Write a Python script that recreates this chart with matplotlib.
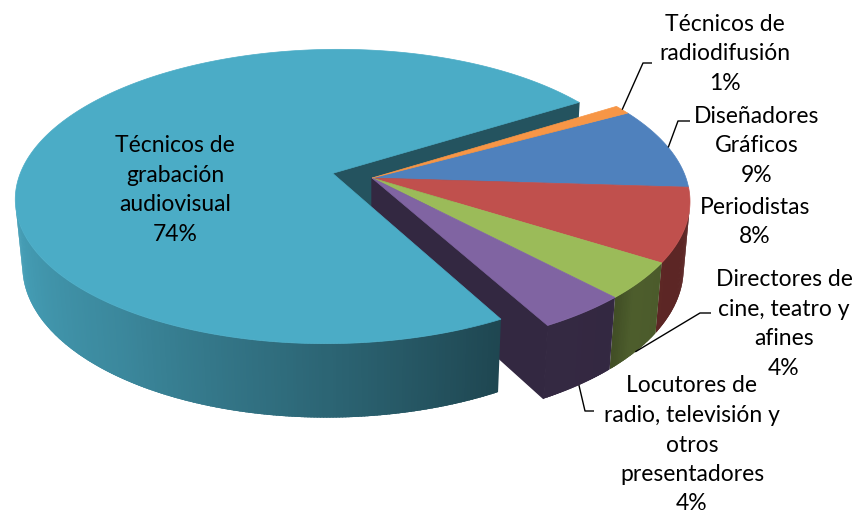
import numpy as np
import matplotlib
matplotlib.use('Agg')
import matplotlib.pyplot as plt
from matplotlib.colors import to_rgb

# ---------------- data ----------------
categories = ['Diseñadores Gráficos', 'Periodistas',
              'Directores de cine, teatro y afines',
              'Locutores de radio, televisión y otros presentadores',
              'Técnicos de grabación audiovisual', 'Técnicos de radiodifusión']
values = [9, 8, 4, 4, 74, 1]
label_text = ['Diseñadores\nGráficos', 'Periodistas',
              'Directores de\ncine, teatro y\nafines',
              'Locutores de\nradio, televisión y\notros\npresentadores',
              'Técnicos de\ngrabación\naudiovisual',
              'Técnicos de\nradiodifusión']
colors = ['#4F81BD', '#C0504D', '#9BBB59', '#8064A2', '#4BACC6', '#F79646']
explode = [0, 0, 0, 0, 0.13, 0]

# ---------------- layout / style ----------------
W, H = 857, 513
start_angle = 28.8          # first slice starts here, clockwise
cx, cy = 372.0, 178.0       # projected pie centre (px)
S = 314.0                   # scale (px per radius)
Dcam = 5.61                 # camera distance (radius units)
elev = np.radians(27.5)
se, ce = np.sin(elev), np.cos(elev)
depth = 0.242               # pie thickness (radius units)

label_pos = [(757, 146), (755, 222), (784, 324), (692, 445), (175, 190), (725, 54)]
leader_anchor = ['top', None, 'bottom', 'bottom', None, 'top']
leader_path = [[(678, 121), (690, 121)], None, [(700, 313), (711, 313)],
               [(585, 411), (594, 411)], None, [(643, 63), (652, 63)]]


def project(X, Y, Z):
    X = np.asarray(X, float); Y = np.asarray(Y, float); Z = np.asarray(Z, float)
    v = Y * se + Z * ce
    w = Dcam + Y * ce - Z * se
    return cx + S * X * Dcam / w, cy - S * v * Dcam / w, w


def shade(theta_deg):
    t = np.mod(theta_deg, 360)
    keys = [0, 180, 190, 235, 265, 298, 312, 318, 330, 360]
    vals = [0.48, 0.97, 0.95, 0.79, 0.62, 0.41, 0.40, 0.50, 0.48, 0.48]
    return np.interp(t, keys, vals)


def dark(c, f):
    r, g, b = to_rgb(c)
    return (r * f, g * f, b * f)


fig = plt.figure(figsize=(W / 100, H / 100), dpi=100)
ax = fig.add_axes([0, 0, 1, 1])
ax.set_xlim(0, W)
ax.set_ylim(H, 0)
ax.axis('off')

total = float(sum(values))
cum = np.concatenate([[0], np.cumsum(values)]) / total * 360.0
hi = start_angle - cum[:-1]
lo = start_angle - cum[1:]
n = len(values)
mid = (hi + lo) / 2
offs = [(e * np.cos(np.radians(m)), e * np.sin(np.radians(m))) for e, m in zip(explode, mid)]
cam = np.array([0.0, -Dcam * ce, Dcam * se])

sides = []  # (w, xs, ys, color, edge)

for i in range(n):
    ox, oy = offs[i]
    # rim strips (slightly overlapping to avoid seams)
    span = hi[i] - lo[i]
    k = max(2, int(np.ceil(span / 0.5)))
    th = np.linspace(lo[i], hi[i], k + 1)
    for a, b in zip(th[:-1], th[1:]):
        m = np.radians((a + b) / 2)
        nx, ny = np.cos(m), np.sin(m)
        P = np.array([ox + nx, oy + ny, -depth / 2])
        if nx * (cam[0] - P[0]) + ny * (cam[1] - P[1]) <= 0:
            continue
        a2 = max(lo[i], a - 0.35)
        b2 = min(hi[i], b + 0.35)
        ra, rb = np.radians(a2), np.radians(b2)
        X = [ox + np.cos(ra), ox + np.cos(rb), ox + np.cos(rb), ox + np.cos(ra)]
        Y = [oy + np.sin(ra), oy + np.sin(rb), oy + np.sin(rb), oy + np.sin(ra)]
        Z = [0, 0, -depth, -depth]
        px, py, w = project(X, Y, Z)
        sides.append((w.mean(), px, py, dark(colors[i], shade((a + b) / 2)), False))
    # radial faces (only where exposed)
    for edge, nb, sgn in ((lo[i], (i + 1) % n, -1), (hi[i], (i - 1) % n, 1)):
        if explode[i] == 0 and explode[nb] == 0:
            continue
        r = np.radians(edge)
        if sgn < 0:
            nvec = np.array([np.sin(r), -np.cos(r)])
        else:
            nvec = np.array([-np.sin(r), np.cos(r)])
        C = np.array([ox + 0.5 * np.cos(r), oy + 0.5 * np.sin(r), -depth / 2])
        if nvec[0] * (cam[0] - C[0]) + nvec[1] * (cam[1] - C[1]) <= 0:
            continue
        X = [ox, ox + np.cos(r), ox + np.cos(r), ox]
        Y = [oy, oy + np.sin(r), oy + np.sin(r), oy]
        Z = [0, 0, -depth, -depth]
        px, py, w = project(X, Y, Z)
        f = 0.48 if explode[i] > 0 else 0.40
        sides.append((w.mean() + 10.0, px, py, dark(colors[i], f), True))

sides.sort(key=lambda s: -s[0])
for w, px, py, col, edged in sides:
    if edged:
        ax.fill(px, py, facecolor=col, edgecolor=col, linewidth=1.0, zorder=1)
    else:
        ax.fill(px, py, facecolor=col, edgecolor='none', linewidth=0, zorder=1)

# top faces
for i in range(n):
    ox, oy = offs[i]
    span = hi[i] - lo[i]
    k = max(4, int(np.ceil(span / 0.5)))
    th = np.radians(np.linspace(lo[i], hi[i], k + 1))
    X = np.concatenate([[ox], ox + np.cos(th)])
    Y = np.concatenate([[oy], oy + np.sin(th)])
    px, py, _ = project(X, Y, np.zeros_like(X))
    ax.fill(px, py, facecolor=colors[i], edgecolor=colors[i], linewidth=0.5, zorder=2)

# labels and leaders
for i in range(n):
    pct = f"{round(values[i] / total * 100)}%"
    ax.text(label_pos[i][0], label_pos[i][1], label_text[i] + '\n' + pct,
            ha='center', va='center', multialignment='center',
            fontsize=16.5, family='Lato', linespacing=1.5, color='#000000', zorder=5)
    if leader_anchor[i] is not None:
        ox, oy = offs[i]
        r = np.radians(mid[i])
        z = 0.0 if leader_anchor[i] == 'top' else -depth
        ax0, ay0, _ = project(ox + np.cos(r), oy + np.sin(r), z)
        pts = [(float(ax0), float(ay0))] + leader_path[i]
        ax.plot([p[0] for p in pts], [p[1] for p in pts], color='black',
                linewidth=1.0, zorder=4, solid_capstyle='butt')

fig.savefig('out.png', dpi=100, facecolor='white')
